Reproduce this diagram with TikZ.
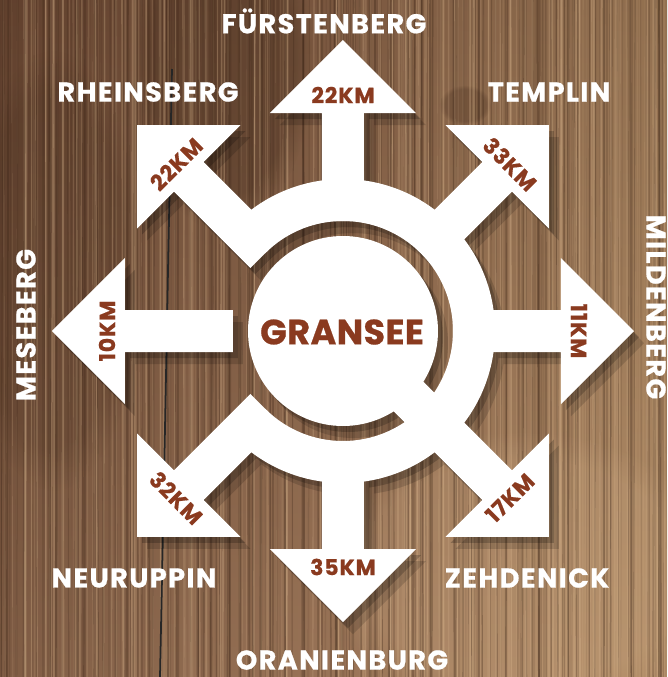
\documentclass[tikz,border=0pt]{standalone}
\usepackage{fontspec}
\setmainfont{Poppins}
\usetikzlibrary{fadings}

\definecolor{holzdunkel}{HTML}{6A4733}
\definecolor{holzmitte}{HTML}{8A644A}
\definecolor{holzhell}{HTML}{AA8560}
\definecolor{holzlicht}{HTML}{D9B68E}
\definecolor{holzfaser}{HTML}{3A2416}
\definecolor{rost}{HTML}{8A3A1F}

\newcommand{\ortfont}{\fontsize{15.5}{18}\selectfont\bfseries\addfontfeature{LetterSpace=5,FakeBold=0.6}}
\newcommand{\kmfont}{\fontsize{12.5}{15}\selectfont\bfseries\addfontfeature{LetterSpace=4,FakeBold=0.5}}
\newcommand{\mittefont}{\fontsize{20}{23}\selectfont\bfseries\addfontfeature{LetterSpace=1,FakeBold=0.6}}

\newcommand{\wegform}[1]{%
  \fill[#1] (0,0) circle (95);
  \fill[#1] (135:152) arc[start angle=135, end angle=-135, radius=152]
    -- (-135:110) arc[start angle=-135, end angle=135, radius=110] -- cycle;
  \foreach \w/\s in {90/110,45/110,0/110,-45/0,-90/110,-135/110,180/110,135/110}
    \fill[#1, rotate=\w] (\s,-21) -- (218,-21) -- (218,-73) -- (291,0)
      -- (218,73) -- (218,21) -- (\s,21) -- cycle;
}

\tikzset{
  ort/.style={text=white, font=\ortfont, inner sep=0pt},
  km/.style={text=rost, font=\kmfont, inner sep=0pt},
}

\begin{document}
\begin{tikzpicture}[x=0.02cm, y=0.02cm]
\useasboundingbox (-343,-346) rectangle (324,331);

\fill[left color=holzdunkel, right color=holzhell, middle color=holzmitte] (-343,-346) rectangle (324,331);
\shade[top color=holzfaser, bottom color=holzlicht, opacity=0.2] (-343,-346) rectangle (324,331);
\fill[holzfaser, opacity=0.3, path fading=circle with fuzzy edge 20 percent] (-120,270) ellipse (90 and 170);
\fill[holzfaser, opacity=0.2, path fading=circle with fuzzy edge 20 percent] (-290,60) ellipse (90 and 220);
\fill[holzfaser, opacity=0.25, path fading=circle with fuzzy edge 20 percent] (122,226) ellipse (26 and 20);
\fill[holzlicht, opacity=0.2, path fading=circle with fuzzy edge 20 percent] (180,-240) ellipse (200 and 140);

\pgfmathsetseed{42}
\foreach \i in {1,...,450}{
  \pgfmathsetmacro\gx{rnd*667-343}
  \pgfmathsetmacro\gl{0.2+rnd*1.0}
  \pgfmathsetmacro\go{0.1+rnd*0.25}
  \pgfmathtruncatemacro\gh{rnd*2}
  \ifnum\gh=0 \def\gc{holzfaser}\else\def\gc{holzlicht}\fi
  \draw[\gc, opacity=\go, line width=\gl pt] (\gx,-346) -- (\gx+rnd*4-2,331);
}
\draw[black!85, line width=1pt] (-171,262) -- (-175,60) -- (-179,-150) -- (-183,-346);

\begin{scope}[transparency group, opacity=0.2, shift={(5,-6)}]
  \wegform{black}
\end{scope}
\begin{scope}[transparency group, opacity=0.15, shift={(10,-12)}]
  \wegform{black}
\end{scope}
\wegform{white}

\node[text=rost, font=\mittefont, inner sep=0pt] (gransee) at (-1,-1) {GRANSEE};

\foreach \w/\d/\r/\n in {90/22KM/0/kmN, 45/33KM/-45/kmNO, 0/11KM/-90/kmO,
    -45/17KM/45/kmSO, -90/35KM/0/kmS, -135/32KM/-45/kmSW, 180/10KM/90/kmW, 135/22KM/45/kmNW}
  \node[km, rotate=\r] (\n) at (\w:236) {\d};

\node[ort] (fuerstenberg) at (-19,310) {FÜRSTENBERG};
\node[ort] (rheinsberg) at (-195,239) {RHEINSBERG};
\node[ort] (templin) at (206,239) {TEMPLIN};
\node[ort, rotate=-90] (mildenberg) at (313,24) {MILDENBERG};
\node[ort, rotate=90] (meseberg) at (-317,6) {MESEBERG};
\node[ort] (neuruppin) at (-209,-247) {NEURUPPIN};
\node[ort] (zehdenick) at (184,-247) {ZEHDENICK};
\node[ort] (oranienburg) at (-1,-329) {ORANIENBURG};
\end{tikzpicture}
\end{document}
